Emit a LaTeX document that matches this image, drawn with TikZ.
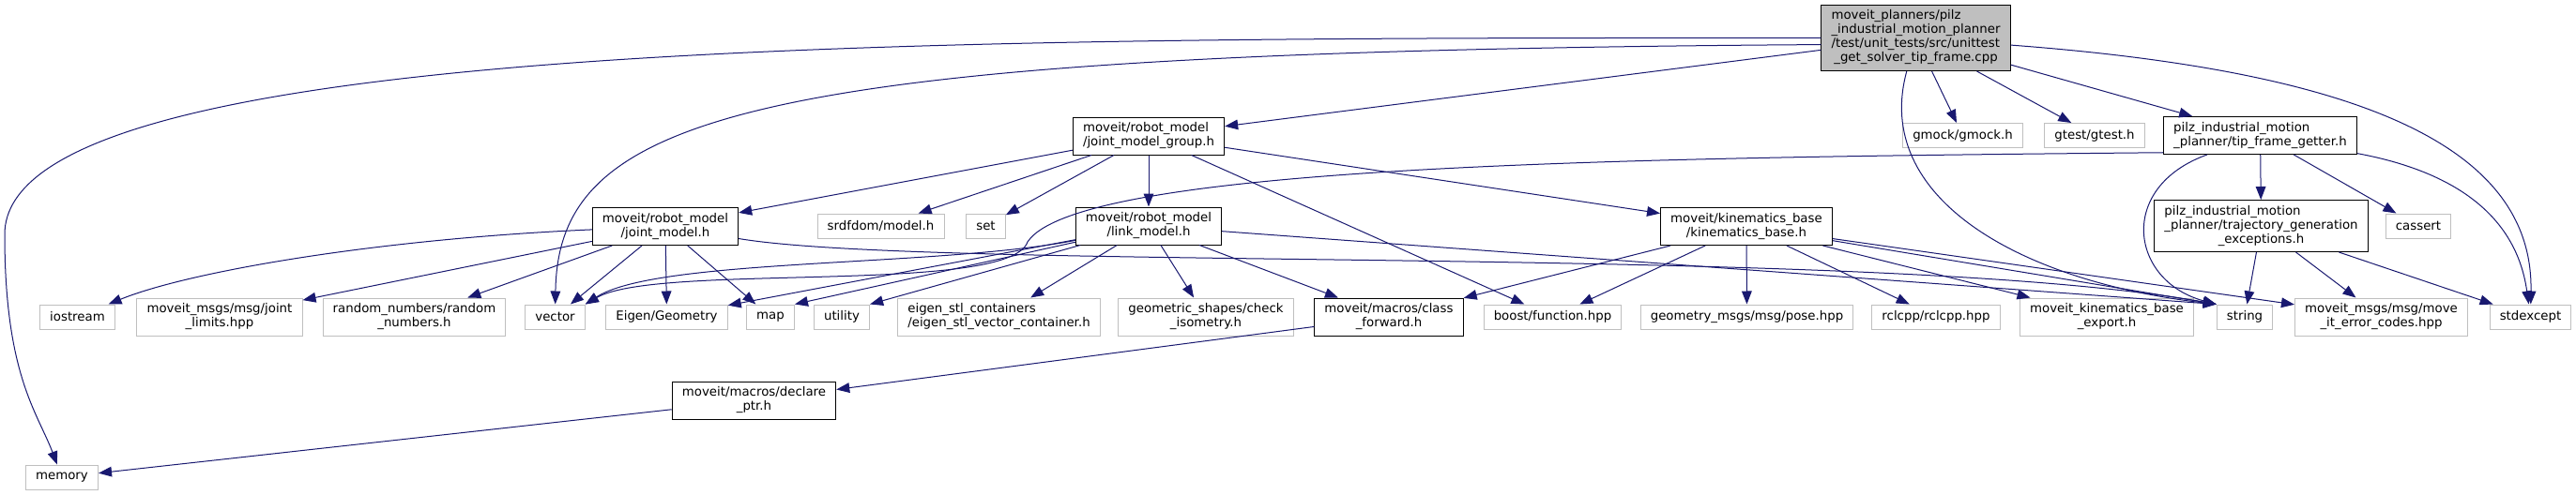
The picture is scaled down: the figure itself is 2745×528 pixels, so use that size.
\documentclass[tikz,border=0pt]{standalone}
\usepackage{fontspec}
\setmainfont{DejaVu Sans}
\usepackage{tikz}
\usetikzlibrary{arrows.meta}
\definecolor{edgeblue}{HTML}{191970}
\definecolor{boxgray}{HTML}{BFBFBF}
\newcommand{\flines}[2]{\begin{tabular}{@{}l@{}}#1\\\multicolumn{1}{@{}c@{}}{#2}\end{tabular}}

\begin{document}
\begin{tikzpicture}[x=0.75pt,y=-0.75pt,>={Triangle[length=10.5pt,width=8pt]},
font={\fontsize{10}{11.25}\selectfont}]
\tikzstyle{extbox}=[draw=boxgray, line width=0.75pt, fill=white,
inner xsep=8pt, inner ysep=3.75pt, minimum height=19.5pt]
\tikzstyle{hdrbox}=[extbox, draw=black]
\tikzstyle{rootbox}=[hdrbox, fill=boxgray]
\tikzstyle{inc}=[->, draw=edgeblue, line width=0.75pt]

\fill[white] (0,0) rectangle (2745,528);
\useasboundingbox (0,0) rectangle (2745,528);

% file under test
\node[rootbox] (unittest) at (2041.5,40.5) {\flines{moveit\_planners/pilz\\\_industrial\_motion\_planner\\/test/unit\_tests/src/unittest}{\_get\_solver\_tip\_frame.cpp}};

% second row
\node[hdrbox] (jmgroup) at (1224,145) {\flines{moveit/robot\_model}{/joint\_model\_group.h}};
\node[extbox] (gmock) at (2091.5,144.5) {gmock/gmock.h};
\node[extbox] (gtest) at (2232,144.5) {gtest/gtest.h};
\node[hdrbox] (tipframe) at (2408.5,144.5) {\flines{pilz\_industrial\_motion}{\_planner/tip\_frame\_getter.h}};

% third row
\node[hdrbox] (jointmodel) at (709,241.5) {\flines{moveit/robot\_model}{/joint\_model.h}};
\node[extbox] (srdfdom) at (938.5,241) {srdfdom/model.h};
\node[extbox] (stdset) at (1050.5,241) {set};
\node[hdrbox] (linkmodel) at (1224,241) {\flines{moveit/robot\_model}{/link\_model.h}};
\node[hdrbox] (kinbase) at (1861,241.5) {\flines{moveit/kinematics\_base}{/kinematics\_base.h}};
\node[hdrbox] (trajexc) at (2409.5,241) {\flines{pilz\_industrial\_motion\\\_planner/trajectory\_generation}{\_exceptions.h}};
\node[extbox] (cassert) at (2577,241) {cassert};

% bottom row
\node[extbox] (iostream) at (82.5,338) {iostream};
\node[extbox] (jlimits) at (234,338) {\flines{moveit\_msgs/msg/joint}{\_limits.hpp}};
\node[extbox] (rnumbers) at (441.5,338) {\flines{random\_numbers/random}{\_numbers.h}};
\node[extbox] (vector) at (591.5,338) {vector};
\node[extbox] (eigengeo) at (710.5,338) {Eigen/Geometry};
\node[extbox] (map) at (821,338) {map};
\node[extbox] (utility) at (897,338) {utility};
\node[extbox] (eigenstl) at (1064.5,338) {\flines{eigen\_stl\_containers}{/eigen\_stl\_vector\_container.h}};
\node[extbox] (checkiso) at (1285,338) {\flines{geometric\_shapes/check}{\_isometry.h}};
\node[hdrbox] (classfwd) at (1480,338) {\flines{moveit/macros/class}{\_forward.h}};
\node[extbox] (boostfn) at (1654.5,338) {boost/function.hpp};
\node[extbox] (pose) at (1861.5,338) {geometry\_msgs/msg/pose.hpp};
\node[extbox] (rclcpp) at (2063,338) {rclcpp/rclcpp.hpp};
\node[extbox] (kbexport) at (2245,338) {\flines{moveit\_kinematics\_base}{\_export.h}};
\node[extbox] (string) at (2392,338) {string};
\node[extbox] (errcodes) at (2537.5,338) {\flines{moveit\_msgs/msg/move}{\_it\_error\_codes.hpp}};
\node[extbox] (stdexcept) at (2696.5,338) {stdexcept};

% macros
\node[hdrbox] (declptr) at (803.5,427) {\flines{moveit/macros/declare}{\_ptr.h}};
\node[extbox] (memory) at (66,509) {memory};

% includes of the test file
\draw[inc] (unittest.west) .. controls (1000,40) and (5,40) .. (5,250) .. controls (5,400) and (40,440) .. (memory);
\draw[inc] (unittest.184) .. controls (800,55) and (595,120) .. (vector);
\draw[inc] (unittest) -- (jmgroup);
\draw[inc] (unittest) -- (gmock);
\draw[inc] (unittest) -- (gtest);
\draw[inc] (unittest) -- (tipframe);
\draw[inc] (unittest) .. controls (1995,210) and (2150,300) .. (string.north west);
\draw[inc] (unittest) .. controls (2500,75) and (2700,150) .. (stdexcept);

% joint model group
\draw[inc] (jmgroup) -- (jointmodel);
\draw[inc] (jmgroup) -- (srdfdom);
\draw[inc] (jmgroup) -- (stdset);
\draw[inc] (jmgroup) -- (linkmodel);
\draw[inc] (jmgroup) -- (kinbase);
\draw[inc] (jmgroup) -- (boostfn);

% tip frame getter
\draw[inc] (tipframe.190) .. controls (1750,168) and (1150,175) .. (1095,258) .. controls (1075,315) and (700,280) .. (vector.north east);
\draw[inc] (tipframe) .. controls (2255,200) and (2270,300) .. (string.north west);
\draw[inc] (tipframe) -- (trajexc);
\draw[inc] (tipframe) -- (cassert);
\draw[inc] (tipframe) .. controls (2600,180) and (2680,220) .. (stdexcept);

% trajectory exceptions
\draw[inc] (trajexc) -- (string);
\draw[inc] (trajexc) -- (errcodes);
\draw[inc] (trajexc) -- (stdexcept);

% joint model
\draw[inc] (jointmodel) .. controls (400,255) and (200,290) .. (iostream);
\draw[inc] (jointmodel) -- (jlimits);
\draw[inc] (jointmodel) -- (rnumbers);
\draw[inc] (jointmodel) -- (vector);
\draw[inc] (jointmodel) -- (eigengeo);
\draw[inc] (jointmodel) -- (map);
\draw[inc] (jointmodel) .. controls (1000,290) and (2000,260) .. (string.north west);

% link model
\draw[inc] (linkmodel) .. controls (1000,285) and (700,275) .. (vector.north east);
\draw[inc] (linkmodel) -- (eigengeo);
\draw[inc] (linkmodel) -- (map.north east);
\draw[inc] (linkmodel) -- (utility.north east);
\draw[inc] (linkmodel) -- (eigenstl);
\draw[inc] (linkmodel) -- (checkiso);
\draw[inc] (linkmodel) -- (classfwd);
\draw[inc] (linkmodel) -- (string.north west);

% kinematics base
\draw[inc] (kinbase) -- (classfwd);
\draw[inc] (kinbase) -- (boostfn);
\draw[inc] (kinbase) -- (pose);
\draw[inc] (kinbase) -- (rclcpp);
\draw[inc] (kinbase) -- (kbexport);
\draw[inc] (kinbase) -- (string.north west);
\draw[inc] (kinbase) -- (errcodes);

% macros
\draw[inc] (classfwd) -- (declptr);
\draw[inc] (declptr) -- (memory);

\end{tikzpicture}
\end{document}
